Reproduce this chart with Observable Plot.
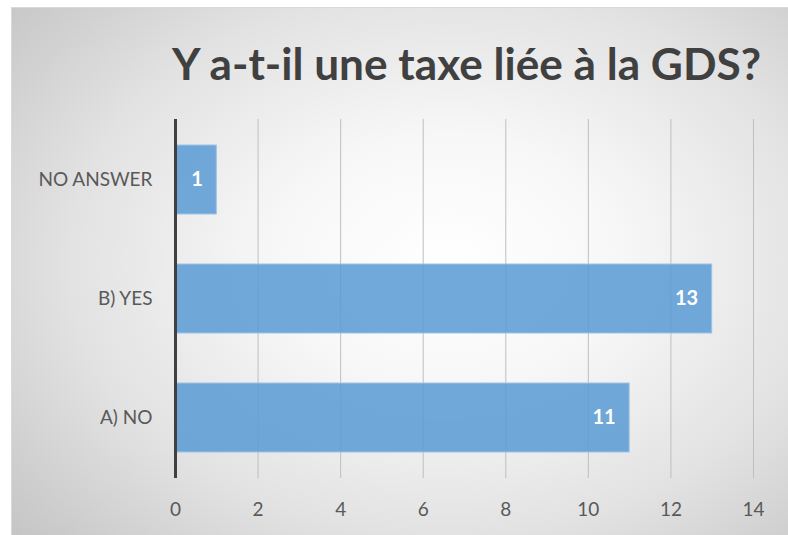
<!DOCTYPE html>
<html>
<head>
<meta charset="utf-8">
<script src="https://cdn.jsdelivr.net/npm/d3@7"></script>
<script src="https://cdn.jsdelivr.net/npm/@observablehq/plot@0.6"></script>
<style>
  html, body { margin: 0; padding: 0; background: #ffffff; }
  #wrap { position: relative; width: 788px; height: 535px; overflow: hidden; }
  #bg { position: absolute; left: 11px; top: 7px; width: 780px; height: 530px;
        border: 1px solid #d9d9d9; box-sizing: border-box;
        background: radial-gradient(ellipse 75% 80% at 56% 48%, #ffffff 0%, #f7f7f7 30%, #e2e2e2 65%, #c4c4c4 100%); }
  #chart { position: absolute; left: 0; top: 0; }
  #title { position: absolute; left: 0; top: 0; }
</style>
</head>
<body>
<div id="wrap">
  <div id="bg"></div>
  <div id="chart"></div>
  <svg id="title" width="788" height="120">
    <text x="172" y="80" textLength="589" lengthAdjust="spacingAndGlyphs"
      font-family="Lato, 'Open Sans', sans-serif" font-weight="700" font-size="44" fill="#404040">Y a-t-il une taxe liée à la GDS?</text>
  </svg>
</div>
<script>
const categories = ["NO ANSWER", "B) YES", "A) NO"];
const values = [1, 13, 11];
const xTicks = [0, 2, 4, 6, 8, 10, 12, 14];

const data = categories.map((c, i) => ({category: c, value: values[i]}));

const chart = Plot.plot({
  width: 788,
  height: 535,
  marginLeft: 175,
  marginRight: 35,
  marginTop: 119,
  marginBottom: 57,
  style: {background: "transparent", fontFamily: "Lato, 'Open Sans', sans-serif", fontSize: "19px", color: "#595959", overflow: "visible"},
  x: {domain: [0, 14], ticks: xTicks, tickSize: 0, tickPadding: 24, label: null},
  y: {domain: categories, paddingInner: 0.417, paddingOuter: 0.208, tickSize: 0, tickPadding: 23, label: null},
  marks: [
    Plot.gridX(xTicks.filter(d => d > 0), {stroke: "#bfbfbf", strokeOpacity: 1, strokeWidth: 1}),
    Plot.barX(data, {x: "value", y: "category", fill: "#5b9bd5", fillOpacity: 0.86, stroke: "#9dc3e6", strokeWidth: 1}),
    Plot.ruleX([0], {stroke: "#404040", strokeWidth: 3}),
    Plot.text(data, {x: "value", y: "category", text: d => String(d.value), textAnchor: "end", dx: -14, fill: "white", fontWeight: "bold", fontSize: 20})
  ]
});
document.getElementById("chart").appendChild(chart);
</script>
</body>
</html>
